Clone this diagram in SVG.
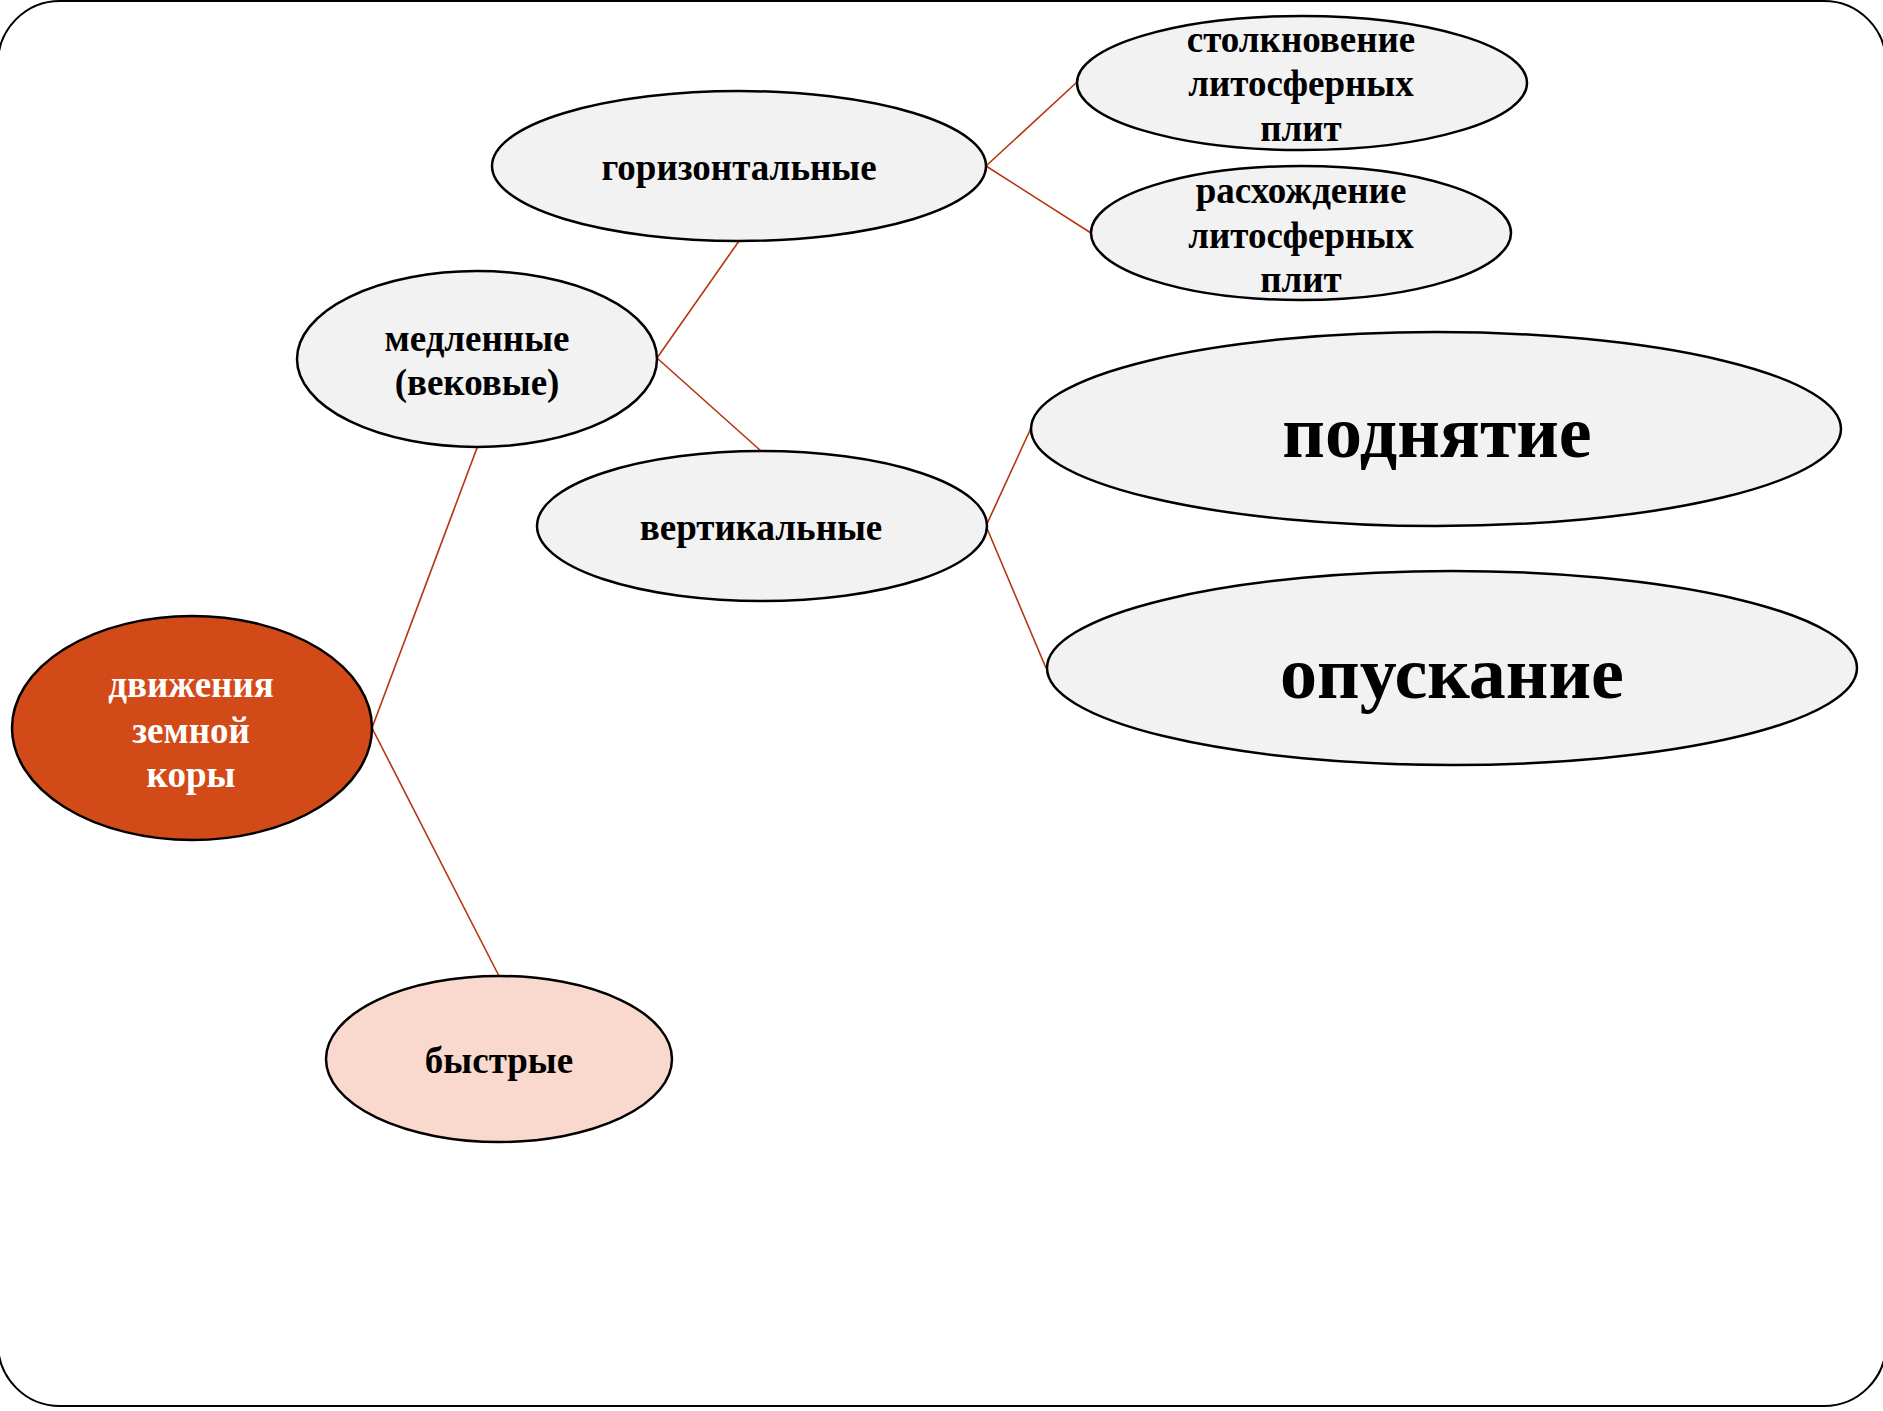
<svg xmlns="http://www.w3.org/2000/svg" width="1883" height="1411" viewBox="0 0 1883 1411">
<style>
.node{stroke:#000;stroke-width:2.5}
.gray{fill:#f2f2f2}
.t{font-family:"Liberation Serif","Times New Roman",serif;font-weight:bold;font-size:37px;text-anchor:middle;fill:#000}
.big{font-size:74px}
.w{fill:#fff}
.c{stroke:#b5340f;stroke-width:1.6;fill:none}
</style>
<rect x="-2" y="1" width="1888" height="1405" rx="62" ry="62" fill="#fff" stroke="#000" stroke-width="2"/>
<g id="connectors">
<line class="c" x1="986" y1="166" x2="1076" y2="83"/>
<line class="c" x1="986" y1="166" x2="1091" y2="233"/>
<line class="c" x1="657" y1="358" x2="739" y2="241"/>
<line class="c" x1="657" y1="358" x2="761" y2="451"/>
<line class="c" x1="986" y1="526" x2="1031" y2="428"/>
<line class="c" x1="986" y1="526" x2="1046" y2="668"/>
<line class="c" x1="372" y1="728" x2="477" y2="448"/>
<line class="c" x1="372" y1="728" x2="499" y2="976"/>
</g>
<g id="n-gorizontalnye">
<ellipse class="node gray" cx="739" cy="166" rx="247" ry="75"/>
<text class="t" x="739" y="180">горизонтальные</text>
</g>
<g id="n-stolknovenie">
<ellipse class="node gray" cx="1302" cy="83" rx="225" ry="67"/>
<text class="t" x="1301" y="52">столкновение</text>
<text class="t" x="1301" y="96">литосферных</text>
<text class="t" x="1301" y="141">плит</text>
</g>
<g id="n-raskhozhdenie">
<ellipse class="node gray" cx="1301" cy="233" rx="210" ry="67"/>
<text class="t" x="1301" y="203">расхождение</text>
<text class="t" x="1301" y="248">литосферных</text>
<text class="t" x="1301" y="292">плит</text>
</g>
<g id="n-medlennye">
<ellipse class="node gray" cx="477" cy="359" rx="180" ry="88"/>
<text class="t" x="477" y="351">медленные</text>
<text class="t" x="477" y="395">(вековые)</text>
</g>
<g id="n-vertikalnye">
<ellipse class="node gray" cx="762" cy="526" rx="225" ry="75"/>
<text class="t" x="761" y="540">вертикальные</text>
</g>
<g id="n-podnyatie">
<ellipse class="node gray" cx="1436" cy="429" rx="405" ry="97"/>
<text class="t big" x="1437" y="457">поднятие</text>
</g>
<g id="n-opuskanie">
<ellipse class="node gray" cx="1452" cy="668" rx="405" ry="97"/>
<text class="t big" x="1452" y="698">опускание</text>
</g>
<g id="n-dvizheniya">
<ellipse class="node" fill="#d24a17" cx="192" cy="728" rx="180" ry="112"/>
<text class="t w" x="191" y="697">движения</text>
<text class="t w" x="191" y="743">земной</text>
<text class="t w" x="191" y="787">коры</text>
</g>
<g id="n-bystrye">
<ellipse class="node" fill="#f9d8cd" cx="499" cy="1059" rx="173" ry="83"/>
<text class="t" x="499" y="1073">быстрые</text>
</g>
</svg>
